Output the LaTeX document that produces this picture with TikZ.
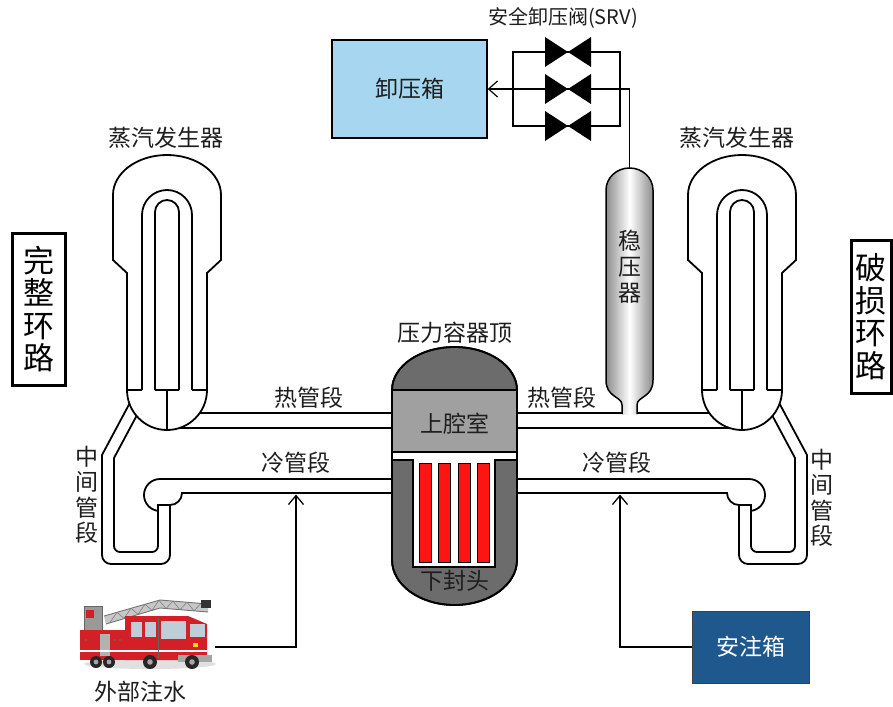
\documentclass[tikz,border=0pt]{standalone}
\usepackage{fontspec}
\setmainfont{Noto Sans CJK SC}
\usetikzlibrary{arrows.meta}

\definecolor{reliefblue}{RGB}{166,214,240}
\definecolor{tankblue}{RGB}{30,88,140}
\definecolor{domegray}{RGB}{108,108,108}
\definecolor{plenumgray}{RGB}{160,160,160}
\definecolor{ink}{RGB}{30,30,30}
\definecolor{rodred}{RGB}{255,20,20}
\definecolor{truckred}{RGB}{210,32,38}
\definecolor{glass}{RGB}{190,205,215}

\tikzset{
  pipe/.style={line width=1.8pt, line join=miter},
  thinpipe/.style={line width=1.5pt},
  txt/.style={text=ink, font=\fontsize{23}{25}\selectfont, inner sep=0pt, align=center},
  sidebox/.style={draw, line width=3pt, text=black, align=center,
    font=\fontsize{31}{32.5}\selectfont, inner sep=0pt},
  feed/.style={line width=1.6pt, -{Straight Barb[length=9pt,width=15pt,line width=1.3pt]}},
  srv/.pic={
    \fill (-23,-15) -- (-23,15) -- (0,0) -- cycle;
    \fill (23,-15) -- (23,15) -- (0,0) -- cycle;
  },
}

% one half of the primary circuit: hot leg, crossover leg, pump casing,
% cold leg and steam generator (drawn for the left loop, mirrored for the right)
\newcommand\loopside{%
  \draw[pipe] (167,413) -- (454.5,413);
  \draw[pipe] (167,428) -- (454.5,428);
  \draw[pipe] (454.5,479) -- (160,479) arc[start angle=270, end angle=97, radius=16];
  \draw[pipe] (454.5,493) -- (182,493) arc[start angle=0, end angle=90, radius=12];
  \draw[pipe] (132.6,397.8) -- (102,455) [rounded corners=9] -- (102,564) -- (170,564)
    [sharp corners] -- (170,505) -- (158,505) [rounded corners=6] -- (158,552) -- (114,552)
    [sharp corners] -- (114,458) -- (139.9,409.6);
  \draw[pipe, fill=white] (127,390) -- (127,273) -- (113,260) -- (113,195)
    arc[start angle=180, end angle=360, x radius=54, y radius=40]
    -- (221,260) -- (207,273) -- (207,390)
    arc[start angle=0, end angle=180, radius=40] -- cycle;
  \draw[pipe] (142,390) -- (142,215) arc[start angle=180, end angle=360, radius=25] -- (192,390);
  \draw[pipe] (155,390) -- (155,212) arc[start angle=180, end angle=360, radius=12] -- (179,390);
  \draw[pipe] (127,390) -- (142,390) (155,390) -- (179,390) (192,390) -- (207,390)
    (167,390) -- (167,430);
}

\begin{document}
\begin{tikzpicture}[x=1pt, y=1pt, yscale=-1]
\useasboundingbox (0,0) rectangle (893,706);
\fill[white] (0,0) rectangle (893,706);

% primary loops
\loopside
\begin{scope}[xshift=909pt, xscale=-1]
  \loopside
\end{scope}

% reactor pressure vessel
\draw[pipe, fill=domegray] (392,390) arc[start angle=180, end angle=360, x radius=62.5, y radius=43]
  -- (517,560) arc[start angle=0, end angle=180, x radius=62.5, y radius=45] -- cycle;
\fill[plenumgray] (392,390) rectangle (517,452);
\draw[line width=1.2pt, fill=white] (392,452) -- (517,452) -- (517,460) -- (495,460)
  -- (495,567) -- (413,567) -- (413,460) -- (392,460) -- cycle;
\foreach \rx in {419,438.5,458,477.5}
  \draw[line width=1pt, fill=rodred] (\rx,463) rectangle ++(12,99);
\draw[pipe] (392,390) -- (517,390);
\draw[pipe] (392,390) arc[start angle=180, end angle=360, x radius=62.5, y radius=43]
  -- (517,560) arc[start angle=0, end angle=180, x radius=62.5, y radius=45] -- cycle;

% pressurizer
\shade[left color=black!45, right color=black!45, middle color=white]
  (622,414.5) -- (622,405) .. controls (622,396) and (606,398) .. (606,380) -- (606,190)
  arc[start angle=180, end angle=360, x radius=23.5, y radius=22]
  -- (653,380) .. controls (653,398) and (637,396) .. (637,405) -- (637,414.5) -- cycle;
\draw[thinpipe] (622,414) -- (622,405) .. controls (622,396) and (606,398) .. (606,380) -- (606,190)
  arc[start angle=180, end angle=360, x radius=23.5, y radius=22]
  -- (653,380) .. controls (653,398) and (637,396) .. (637,405) -- (637,414);
\coordinate (pzrtop) at (629.5,168);

% relief tank and safety relief valves
\node[draw, line width=1.3pt, fill=reliefblue, minimum width=155pt, minimum height=98pt, txt]
  (relief) at (409.5,89) {卸压箱};
\draw[thinpipe] (513,52) rectangle (620,126);
\draw[thinpipe, -{Straight Barb[length=9pt,width=16pt,line width=1.2pt]}] (pzrtop) |- (relief.east);
\foreach \vy in {52,89,126} \pic at (568,\vy) {srv};

% injection paths into the cold legs
\coordinate (coldinjL) at (296,494.5);
\coordinate (coldinjR) at (620,494.5);
\coordinate (truckout) at (215,647);
\draw[feed] (truckout) -| (coldinjL);
\node[draw=black!75, line width=1pt, fill=tankblue, minimum width=117pt, minimum height=72pt,
  txt, text=white] (tank) at (750.5,647) {安注箱};
\draw[feed] (tank.west) -| (coldinjR);

% fire engine
\node[minimum width=135pt, minimum height=73pt, inner sep=0pt] (truck) at (147.5,633.5) {};
\fill[black!12] (150,664) ellipse[x radius=66, y radius=5];
% turret and aerial ladder
\fill[black!40] (84,606) rectangle (102,630);
\fill[truckred] (86,610) rectangle (94,618);
\draw[black!60, line width=0.8pt] (84,606) rectangle (102,630);
\fill[black!22] (104,616) -- (160,600) -- (208,604) -- (208,612) -- (160,608) -- (106,624) -- cycle;
\draw[black!55, line width=0.9pt] (104,616) -- (160,600) -- (208,604);
\draw[black!55, line width=0.9pt] (106,624) -- (160,608) -- (208,612);
\draw[black!50, line width=0.6pt] (110,622.3) -- (117,612.3) -- (124,618.3) -- (131,608.3)
  -- (138,614.3) -- (145,604.3) -- (152,610.3) -- (159,600.3) -- (166,608.5) -- (173,601.1)
  -- (180,609.7) -- (187,602.2) -- (194,610.8) -- (201,603.4);
\fill[black!80] (201,600) rectangle (211,608);
% rear body
\fill[truckred] (80,630) rectangle (126,660);
\fill[black!30] (100,634) rectangle (110,656);
\fill[white] (80,650) rectangle (126,652);
\foreach \dx in {86,115,120} \fill[black!60] (\dx,640) circle[radius=1.2];
% cab
\fill[truckred] (125,616) -- (188,616) -- (207,624) -- (207,660) -- (125,660) -- cycle;
\fill[white] (125,650) rectangle (207,652);
\fill[glass] (131,622) rectangle (142,637);
\fill[glass] (145,622) rectangle (156,637);
\fill[glass] (161,621) rectangle (186,639);
\fill[glass] (190,624) rectangle (205,637);
\draw[black!60, line width=0.6pt] (158,618) -- (158,658);
\fill[black!35] (178,655) rectangle (212,662);
\fill[yellow!80!orange] (193,643) rectangle (198,647);
% wheels
\foreach \wx/\wr in {96/6,109/6,150/7,192/7} {
  \fill[black!85] (\wx,662) circle[radius=\wr];
  \fill[black!35] (\wx,662) circle[radius=\wr/2.5];
}

% labels
\node[txt, font=\fontsize{20}{22}\selectfont] (srvlabel) at (563,18) {安全卸压阀(SRV)};
\node[txt] (sgleft) at (166,138) {蒸汽发生器};
\node[txt] (sgright) at (737,138) {蒸汽发生器};
\node[txt] (headlabel) at (455,333) {压力容器顶};
\node[txt] (hotleft) at (309,398) {热管段};
\node[txt] (hotright) at (562,398) {热管段};
\node[txt] (coldleft) at (296,463) {冷管段};
\node[txt] (coldright) at (617,463) {冷管段};
\node[txt, font=\fontsize{23}{25.5}\selectfont] (midleft) at (87,495) {中\\间\\管\\段};
\node[txt, font=\fontsize{23}{25.5}\selectfont] (midright) at (822,498) {中\\间\\管\\段};
\node[txt, font=\fontsize{23}{26}\selectfont] (pzrlabel) at (629.5,267) {稳\\压\\器};
\node[txt] (plenumlabel) at (454.5,424) {上腔室};
\node[txt] (headlowlabel) at (454.5,581) {下封头};
\node[txt] (injlabel) at (140,692) {外部注水};
\node[sidebox, minimum width=53pt, minimum height=152pt] (intact) at (38.5,309) {完\\整\\环\\路};
\node[sidebox, minimum width=40pt, minimum height=153pt] (broken) at (871,316.5) {破\\损\\环\\路};
\end{tikzpicture}
\end{document}
